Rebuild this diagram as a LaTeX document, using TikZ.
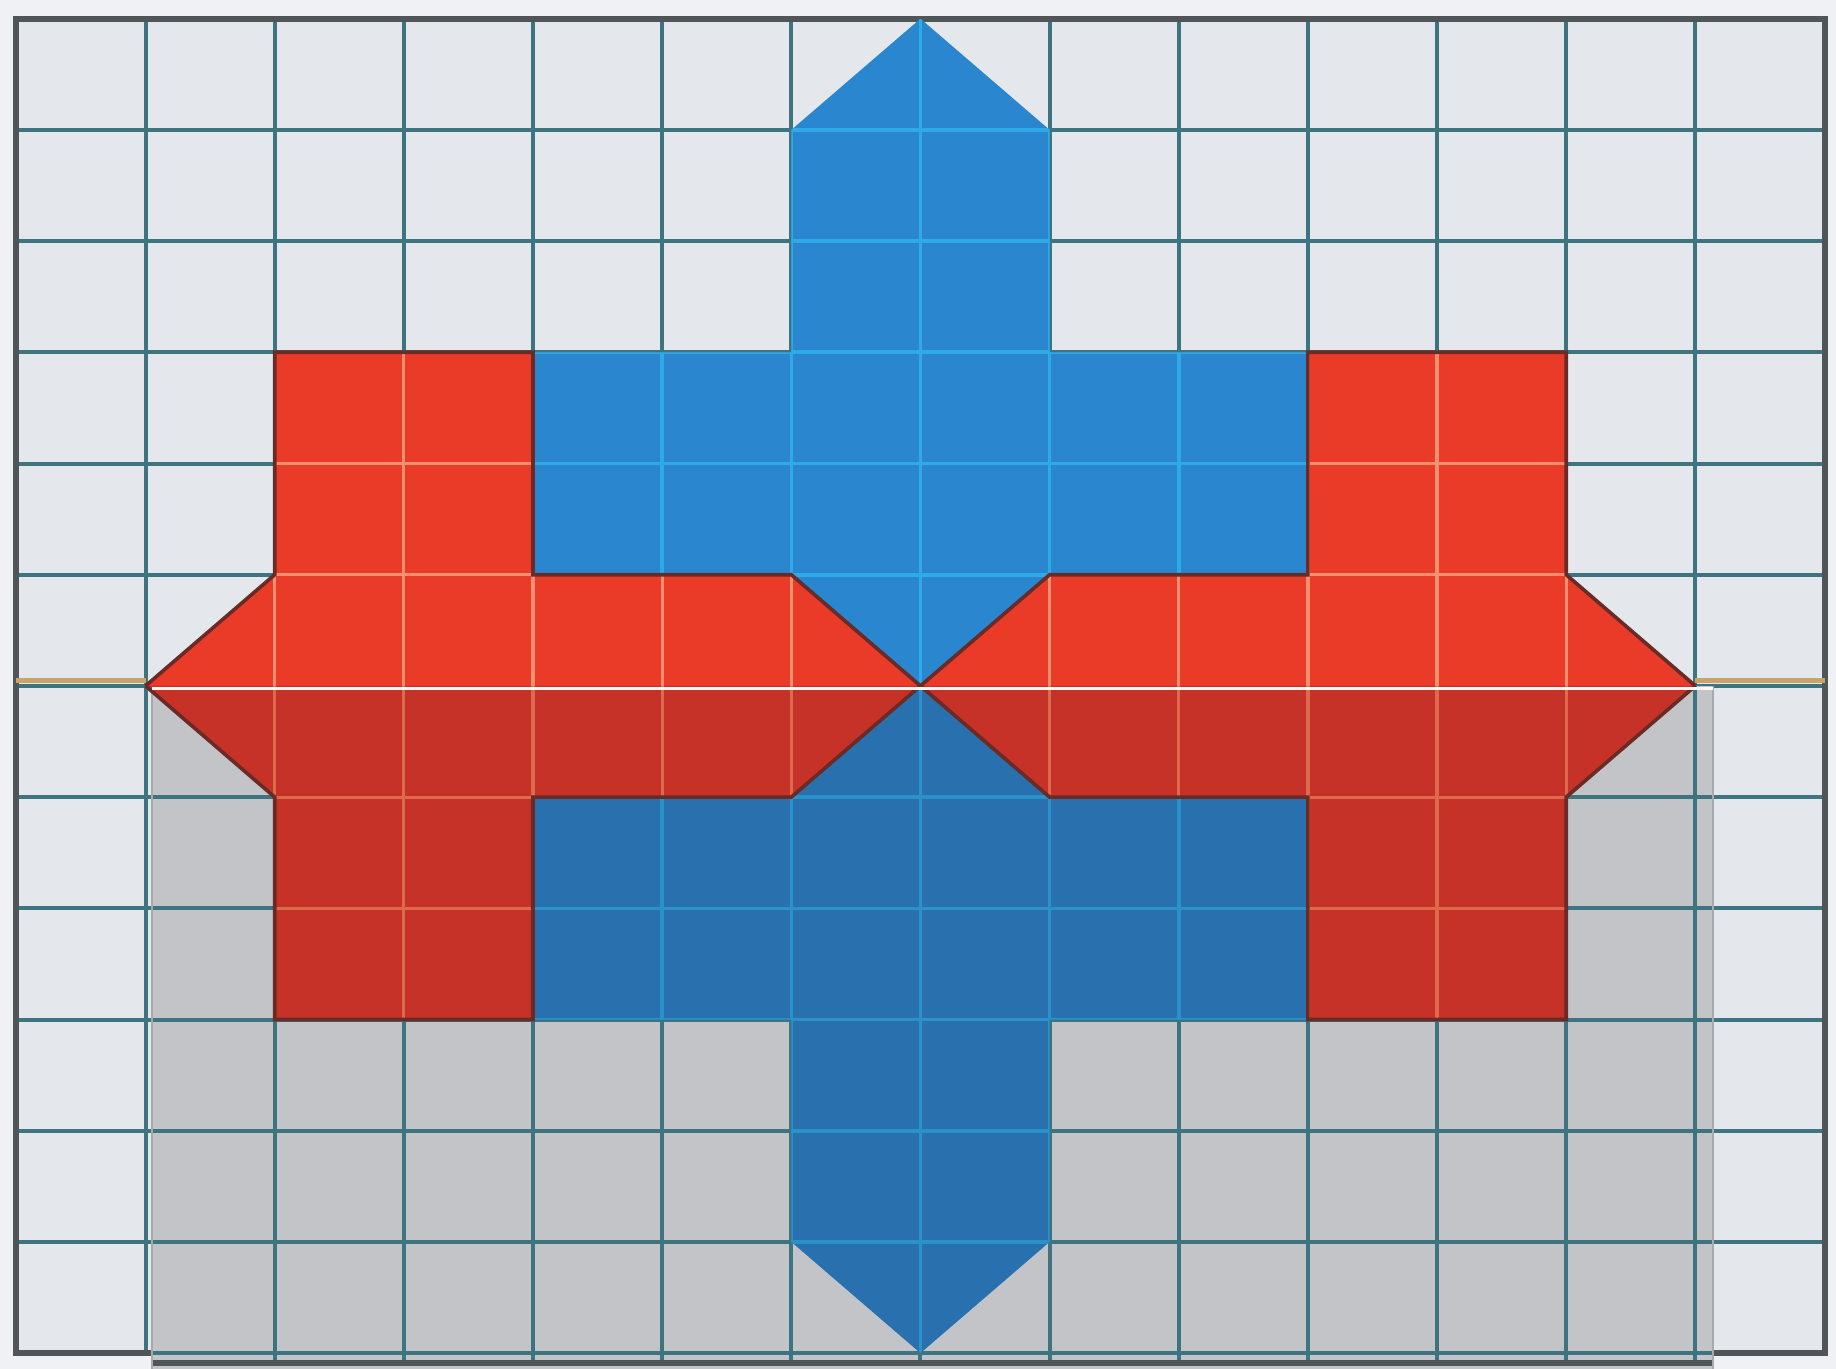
\documentclass[tikz,border=0pt]{standalone}
\definecolor{paper}{HTML}{E4E8EC}
\definecolor{overlayc}{HTML}{C3C4C8}
\definecolor{gridc}{HTML}{3E7480}
\definecolor{borderc}{HTML}{505658}
\definecolor{blueU}{HTML}{2A86CE}
\definecolor{blueL}{HTML}{2870AE}
\definecolor{redU}{HTML}{EA3A28}
\definecolor{redL}{HTML}{C63228}
\definecolor{gridRU}{HTML}{F49070}
\definecolor{gridRL}{HTML}{DC6A4C}
\definecolor{gridBU}{HTML}{2EAAE6}
\definecolor{gridBL}{HTML}{2A92C8}
\definecolor{redEdge}{HTML}{6A2A26}
\definecolor{axisc}{HTML}{C8A468}
\tikzset{
  gridline/.style={draw=gridc, line width=2pt},
  borderline/.style={draw=borderc, line width=3pt},
  redgrid/.style={draw=gridRU, line width=1.6pt},
  redgridL/.style={draw=gridRL, line width=1.6pt},
  bluegrid/.style={draw=gridBU, line width=1.8pt},
  bluegridL/.style={draw=gridBL, line width=1.8pt},
  rededge/.style={draw=redEdge, line width=1.8pt, line join=miter},
}
\begin{document}
\begin{tikzpicture}[x=0.5pt,y=-0.5pt]
\useasboundingbox (0,0) rectangle (1836,1369);
\fill[paper!60!white] (0,0) rectangle (1836,1369);
\begin{scope}[shift={(8.2pt,-9.35pt)},x=64.575pt,y=-55.6pt]
  % paper and grid
  \fill[paper] (0,0) rectangle (14,12);
  \foreach \i in {0,...,14} \draw[gridline] (\i,0) -- (\i,12);
  \foreach \j in {0,...,12} \draw[gridline] (0,\j) -- (14,\j);
  \draw[borderline] (0,0) rectangle (14,12);
  % overlay (reflected half)
  \fill[overlayc] (1.05,6) rectangle (13.14,12.3);
  \begin{scope}
    \clip (1.05,6) rectangle (13.14,12.09);
    \foreach \i in {0,...,14} \draw[gridline] (\i,6) -- (\i,12.1);
    \foreach \j in {7,...,12} \draw[gridline] (0,\j) -- (14,\j);
  \end{scope}
  \draw[borderline] (1.05,12.09) -- (13.14,12.09);
  \draw[draw=overlayc!60!gray, line width=1pt] (1.05,6) -- (1.05,12.3) (13.14,6) -- (13.14,12.3);
  % blue cross upper
  \begin{scope}
    \clip (0,-0.5) rectangle (14,6);
    \fill[blueU] (6,1) -- (7,0) -- (8,1) -- (8,3) -- (10,3) -- (10,9) -- (8,9) -- (8,11) -- (7,12) -- (6,11) -- (6,9) -- (4,9) -- (4,3) -- (6,3) -- cycle;
    \clip (6,1) -- (7,0) -- (8,1) -- (8,3) -- (10,3) -- (10,9) -- (8,9) -- (8,11) -- (7,12) -- (6,11) -- (6,9) -- (4,9) -- (4,3) -- (6,3) -- cycle;
    \foreach \i in {4,...,10} \draw[bluegrid] (\i,0) -- (\i,6);
    \foreach \j in {1,...,5} \draw[bluegrid] (4,\j) -- (10,\j);
  \end{scope}
  % blue cross lower
  \begin{scope}
    \clip (0,6) rectangle (14,12.5);
    \fill[blueL] (6,1) -- (7,0) -- (8,1) -- (8,3) -- (10,3) -- (10,9) -- (8,9) -- (8,11) -- (7,12) -- (6,11) -- (6,9) -- (4,9) -- (4,3) -- (6,3) -- cycle;
    \clip (6,1) -- (7,0) -- (8,1) -- (8,3) -- (10,3) -- (10,9) -- (8,9) -- (8,11) -- (7,12) -- (6,11) -- (6,9) -- (4,9) -- (4,3) -- (6,3) -- cycle;
    \foreach \i in {4,...,10} \draw[bluegridL] (\i,6) -- (\i,12);
    \foreach \j in {7,...,11} \draw[bluegridL] (4,\j) -- (10,\j);
  \end{scope}
  % red upper left
  \fill[redU] (1,6) -- (2,5) -- (2,3) -- (4,3) -- (4,5) -- (6,5) -- (7,6) -- cycle;
  \fill[redU] (13,6) -- (12,5) -- (12,3) -- (10,3) -- (10,5) -- (8,5) -- (7,6) -- cycle;
  \fill[redL] (1,6) -- (2,7) -- (2,9) -- (4,9) -- (4,7) -- (6,7) -- (7,6) -- cycle;
  \fill[redL] (13,6) -- (12,7) -- (12,9) -- (10,9) -- (10,7) -- (8,7) -- (7,6) -- cycle;
  \begin{scope}
    \clip (1,6) -- (2,5) -- (2,3) -- (4,3) -- (4,5) -- (6,5) -- (7,6) -- cycle
          (13,6) -- (12,5) -- (12,3) -- (10,3) -- (10,5) -- (8,5) -- (7,6) -- cycle;
    \foreach \i in {2,...,12} \draw[redgrid] (\i,3) -- (\i,6);
    \foreach \j in {4,5} \draw[redgrid] (1,\j) -- (13,\j);
  \end{scope}
  \begin{scope}
    \clip (1,6) -- (2,7) -- (2,9) -- (4,9) -- (4,7) -- (6,7) -- (7,6) -- cycle
          (13,6) -- (12,7) -- (12,9) -- (10,9) -- (10,7) -- (8,7) -- (7,6) -- cycle;
    \foreach \i in {2,...,12} \draw[redgridL] (\i,6) -- (\i,9);
    \foreach \j in {7,8} \draw[redgridL] (1,\j) -- (13,\j);
  \end{scope}
  \draw[rededge] (1,6) -- (2,5) -- (2,3) -- (4,3) -- (4,5) -- (6,5) -- (7,6);
  \draw[rededge] (13,6) -- (12,5) -- (12,3) -- (10,3) -- (10,5) -- (8,5) -- (7,6);
  \draw[rededge] (1,6) -- (2,7) -- (2,9) -- (4,9) -- (4,7) -- (6,7) -- (7,6);
  \draw[rededge] (13,6) -- (12,7) -- (12,9) -- (10,9) -- (10,7) -- (8,7) -- (7,6);
  % mirror axis
  \draw[axisc, line width=2.5pt] (0,5.95) -- (1,5.95);
  \draw[axisc, line width=2.5pt] (13,5.95) -- (14,5.95);
  \draw[white!85!pink, line width=1.6pt] (1.05,6.02) -- (13.14,6.02);
\end{scope}
\end{tikzpicture}
\end{document}
